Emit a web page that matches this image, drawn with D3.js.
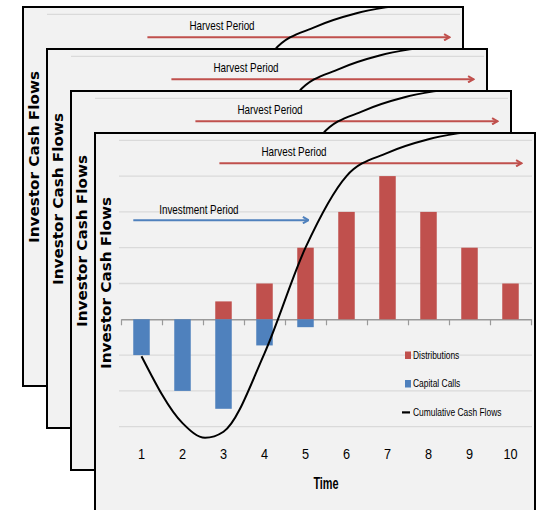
<!DOCTYPE html>
<html>
<head>
<meta charset="utf-8">
<script src="https://cdn.jsdelivr.net/npm/d3@7"></script>
<style>
  body { margin: 0; background: #fff; }
  svg { display: block; }
  .narrow { font-family: "Liberation Sans", Arial, sans-serif; }
</style>
</head>
<body>
<svg></svg>
<script>
// values, in grid units (one unit = one gridline)
var times = [1, 2, 3, 4, 5, 6, 7, 8, 9, 10];
var distributions = [0, 0, 0.5, 1, 2, 3, 4, 3, 2, 1];
var capitalCalls = [-1, -2, -2.5, -0.73, -0.22, 0, 0, 0, 0, 0];
var cumulativeTimes = [1, 2, 2.55, 3, 4, 5, 6, 7, 8, 9, 10];
var cumulativeValues = [-1.03, -2.9, -3.31, -3.14, -0.95, 2.0, 4.0, 4.65, 5.03, 5.25, 5.45];
var gridValues = [-3, -2, -1, 1, 2, 3, 4, 5];
var boundaries = [0.5, 1.5, 2.5, 3.5, 4.5, 5.5, 6.5, 7.5, 8.5, 9.5, 10.5];

var periodLabels = ["Investment Period", "Harvest Period"];
var periodStart = [0.8, 2.9];
var periodEnd = [5.07, 10.27];
var periodLevel = [2.77, 4.36];
var periodLabelTime = [2.4, 4.72];
var periodLabelLevel = [2.94, 4.55];
var periodColors = ["#4f81bd", "#c0504d"];

var legendLabels = ["Distributions", "Capital Calls", "Cumulative Cash Flows"];
var xTitle = "Time";
var yTitle = "Investor Cash Flows";

var width = 539,
  height = 510,
  cardW = 440,
  cardH = 379,
  cards = d3.range(4);

var RED = "#c0504d",
  BLUE = "#4f81bd";

var svg = d3.select("svg").attr("width", width).attr("height", height);
var defs = svg.append("defs");

defs
  .append("clipPath")
  .attr("id", "card-clip")
  .append("rect")
  .attr("width", cardW)
  .attr("height", cardH);

periodColors.forEach(function(c, i) {
  defs
    .append("marker")
    .attr("id", "head" + i)
    .attr("viewBox", "0 0 8 8")
    .attr("refX", 7)
    .attr("refY", 4)
    .attr("markerWidth", 8)
    .attr("markerHeight", 8)
    .attr("markerUnits", "userSpaceOnUse")
    .attr("orient", "auto")
    .append("path")
    .attr("d", "M1.5,0.8 L7,4 L1.5,7.2")
    .attr("fill", "none")
    .attr("stroke", c)
    .attr("stroke-width", 2);
});

// the source chart uses a condensed face, so squeeze the glyphs
function squeeze(sel, k) {
  sel.each(function() {
    var n = this.getComputedTextLength();
    d3.select(this)
      .attr("textLength", n * k)
      .attr("lengthAdjust", "spacingAndGlyphs");
  });
}

// scales in card coordinates
var x = d3.scaleLinear().domain([0.5, 10.5]).range([26, 436]);
var y = d3.scaleLinear().domain([-3, 5]).range([293.7, 7.3]);
var barW = 16.5;

var line = d3
  .line()
  .x(function(d) { return x(d[0]); })
  .y(function(d) { return y(d[1]); })
  .curve(d3.curveMonotoneX);

var cumulative = d3.zip(cumulativeTimes, cumulativeValues);

function drawCard(card) {
  card
    .append("rect")
    .attr("width", cardW)
    .attr("height", cardH)
    .attr("fill", "#f2f2f2");

  var g = card.append("g").attr("clip-path", "url(#card-clip)");

  // gridlines
  g
    .selectAll(".grid")
    .data(gridValues)
    .enter()
    .append("line")
    .attr("x1", 24)
    .attr("x2", cardW - 3)
    .attr("y1", function(d) { return y(d); })
    .attr("y2", function(d) { return y(d); })
    .attr("stroke", "#dadada")
    .attr("stroke-width", 1.3);

  // zero axis with ticks between categories
  var axis = d3
    .axisBottom(x)
    .tickValues(boundaries)
    .tickSize(6)
    .tickSizeOuter(0)
    .tickFormat("");

  var ax = g
    .append("g")
    .attr("transform", "translate(0," + y(0) + ")")
    .call(axis);
  ax.select(".domain").attr("stroke", "#9a9a9a").attr("stroke-width", 1.5);
  ax.selectAll(".tick line").attr("stroke", "#9a9a9a").attr("stroke-width", 1.2);

  // bars
  g
    .selectAll(".dist")
    .data(times)
    .enter()
    .append("rect")
    .attr("x", function(d) { return x(d) - barW / 2; })
    .attr("y", function(d, i) { return y(distributions[i]); })
    .attr("width", barW)
    .attr("height", function(d, i) { return y(0) - y(distributions[i]); })
    .attr("fill", RED);

  g
    .selectAll(".call")
    .data(times)
    .enter()
    .append("rect")
    .attr("x", function(d) { return x(d) - barW / 2; })
    .attr("y", y(0))
    .attr("width", barW)
    .attr("height", function(d, i) { return y(capitalCalls[i]) - y(0); })
    .attr("fill", BLUE);

  // period arrows
  periodLabels.forEach(function(label, i) {
    g
      .append("line")
      .attr("x1", x(periodStart[i]))
      .attr("x2", x(periodEnd[i]))
      .attr("y1", y(periodLevel[i]))
      .attr("y2", y(periodLevel[i]))
      .attr("stroke", periodColors[i])
      .attr("stroke-width", 2)
      .attr("marker-end", "url(#head" + i + ")");

    g
      .append("text")
      .attr("class", "narrow")
      .attr("x", x(periodLabelTime[i]))
      .attr("y", y(periodLabelLevel[i]))
      .attr("text-anchor", "middle")
      .attr("font-size", 13.5)
      .attr("fill", "#000")
      .text(label)
      .call(squeeze, 0.73);
  });

  // cumulative curve
  g
    .append("path")
    .datum(cumulative)
    .attr("d", line)
    .attr("fill", "none")
    .attr("stroke", "#000")
    .attr("stroke-width", 2);

  g
    .append("text")
    .attr("transform", "translate(16," + 150 + ") rotate(-90)")
    .attr("text-anchor", "middle")
    .attr("font-family", "'DejaVu Sans', Verdana, sans-serif")
    .attr("font-size", 13.5)
    .attr("font-weight", "bold")
    .attr("textLength", 172)
    .attr("lengthAdjust", "spacingAndGlyphs")
    .attr("fill", "#000")
    .text(yTitle);

  // category labels
  g
    .selectAll(".tlabel")
    .data(times)
    .enter()
    .append("text")
    .attr("class", "narrow")
    .attr("x", function(d) { return x(d); })
    .attr("y", 326)
    .attr("text-anchor", "middle")
    .attr("font-size", 15.5)
    .attr("fill", "#000")
    .text(function(d) { return d; })
    .call(squeeze, 0.82);

  g
    .append("text")
    .attr("class", "narrow")
    .attr("x", (x.range()[0] + x.range()[1]) / 2)
    .attr("y", 356)
    .attr("text-anchor", "middle")
    .attr("font-size", 16)
    .attr("font-weight", "bold")
    .attr("fill", "#000")
    .text(xTitle)
    .call(squeeze, 0.68);

  // legend
  var legend = g.append("g").attr("transform", "translate(307,218)");
  var items = legend
    .selectAll(".item")
    .data(legendLabels)
    .enter()
    .append("g")
    .attr("transform", function(d, i) { return "translate(0," + i * 28.5 + ")"; });

  items
    .filter(function(d, i) { return i < 2; })
    .append("rect")
    .attr("x", 3)
    .attr("y", 0.5)
    .attr("width", 6)
    .attr("height", 7.5)
    .attr("fill", function(d, i) { return i === 0 ? RED : BLUE; });

  items
    .filter(function(d, i) { return i === 2; })
    .append("rect")
    .attr("x", 0)
    .attr("y", 3.3)
    .attr("width", 8)
    .attr("height", 2.2)
    .attr("fill", "#000");

  items
    .append("text")
    .attr("class", "narrow")
    .attr("x", 11)
    .attr("y", 7.5)
    .attr("font-size", 10.8)
    .attr("fill", "#000")
    .text(function(d) { return d; })
    .call(squeeze, 0.78);

  card
    .append("rect")
    .attr("width", cardW)
    .attr("height", cardH)
    .attr("fill", "none")
    .attr("stroke", "#000")
    .attr("stroke-width", 2);
}

// four copies of the chart stacked back to front
svg
  .selectAll(".card")
  .data(cards)
  .enter()
  .append("g")
  .attr("class", "card")
  .attr("transform", function(d) { return "translate(" + (23 + d * 24) + "," + (7 + d * 42) + ")"; })
  .each(function() { drawCard(d3.select(this)); });
</script>
</body>
</html>
